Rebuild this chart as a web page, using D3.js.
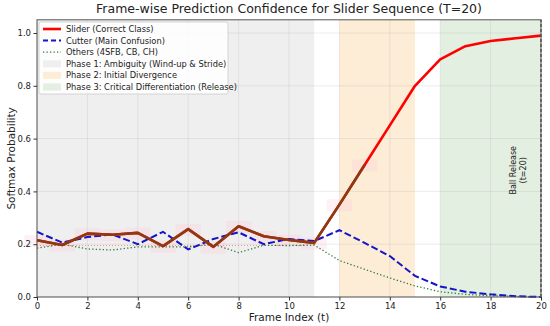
<!DOCTYPE html>
<html>
<head>
<meta charset="utf-8">
<script src="https://cdn.jsdelivr.net/npm/d3@7"></script>
<style>
  body { margin: 0; background: #fff; }
  text { font-family: "DejaVu Sans", sans-serif; fill: #222; }
</style>
</head>
<body>
<svg id="chart"></svg>
<script>
// data
var frames = d3.range(0, 21);
var slider = [0.215, 0.197, 0.24, 0.236, 0.243, 0.193, 0.257, 0.19, 0.268, 0.23, 0.216, 0.205,
              0.35, 0.5, 0.65, 0.8, 0.9, 0.95, 0.97, 0.98, 0.99];
var cutter = [0.247, 0.206, 0.227, 0.237, 0.2, 0.247, 0.18, 0.22, 0.245, 0.2, 0.22, 0.212,
              0.253, 0.205, 0.155, 0.08, 0.04, 0.02, 0.01, 0.003, 0.0];
var others = [0.185, 0.2, 0.182, 0.178, 0.19, 0.19, 0.19, 0.2, 0.168, 0.196, 0.195, 0.197,
              0.138, 0.105, 0.072, 0.042, 0.02, 0.01, 0.005, 0.002, 0.0];
var earlyFrames = d3.range(0, 14);   // part of slider trace drawn dark (ambiguous zone)
var chanceLevel = 0.2;
var phases = [
    {label: "Phase 1: Ambiguity (Wind-up & Stride)", start: 0, end: 11, color: "#efefef"},
    {label: "Phase 2: Initial Divergence", start: 12, end: 15, color: "#fdecd6"},
    {label: "Phase 3: Critical Differentiation (Release)", start: 16, end: 20, color: "#e3efe0"}
];
var xTicks = d3.range(0, 21, 2);
var yTicks = [0, 0.2, 0.4, 0.6, 0.8, 1.0];

var width = 550;
var height = 326;
var margin = {top: 19.8, bottom: 29, left: 37, right: 9};

var svg = d3.select("#chart")
    .attr("width", width)
    .attr("height", height);

var x = d3.scaleLinear().domain([0, 20]).range([margin.left, width - margin.right]);
var y = d3.scaleLinear().domain([0, 1.05]).range([height - margin.bottom, margin.top]);

// phase shading
svg.selectAll(".phase")
    .data(phases)
    .enter().append("rect")
    .attr("x", function (d) { return x(d.start); })
    .attr("y", y(1.05))
    .attr("width", function (d) { return x(d.end) - x(d.start); })
    .attr("height", y(0) - y(1.05))
    .attr("fill", function (d) { return d.color; });

// grid
svg.append("g")
    .selectAll("line")
    .data(xTicks)
    .enter().append("line")
    .attr("x1", function (d) { return x(d); })
    .attr("x2", function (d) { return x(d); })
    .attr("y1", y(0)).attr("y2", y(1.05))
    .attr("stroke", "#b0b0b0").attr("stroke-opacity", 0.3).attr("stroke-width", 0.8);
svg.append("g")
    .selectAll("line")
    .data(yTicks)
    .enter().append("line")
    .attr("x1", x(0)).attr("x2", x(20))
    .attr("y1", function (d) { return y(d); })
    .attr("y2", function (d) { return y(d); })
    .attr("stroke", "#b0b0b0").attr("stroke-opacity", 0.3).attr("stroke-width", 0.8);

// pink uncertainty blocks around early slider frames
svg.selectAll(".band")
    .data(earlyFrames)
    .enter().append("rect")
    .attr("x", function (d) { return x(d - 0.5); })
    .attr("y", function (d) { return y(slider[d] + 0.02); })
    .attr("width", x(1) - x(0))
    .attr("height", function (d) { return y(slider[d] - 0.025) - y(slider[d] + 0.02); })
    .attr("fill", "#ffc4dc")
    .attr("fill-opacity", 0.25);

var line = d3.line()
    .x(function (d) { return x(d[0]); })
    .y(function (d) { return y(d[1]); });

// chance level dotted
svg.append("path")
    .attr("d", line([[0, chanceLevel - 0.005], [11, chanceLevel - 0.005]]))
    .attr("fill", "none")
    .attr("stroke", "#ff5555")
    .attr("stroke-opacity", 0.6)
    .attr("stroke-width", 1.2)
    .attr("stroke-dasharray", "1,2");

svg.append("path")
    .attr("d", line(frames.map(function (t) { return [t, others[t]]; })))
    .attr("fill", "none")
    .attr("stroke", "#2e7d32")
    .attr("stroke-width", 1.3)
    .attr("stroke-dasharray", "1.3,2.2");

svg.append("path")
    .attr("d", line(frames.map(function (t) { return [t, cutter[t]]; })))
    .attr("fill", "none")
    .attr("stroke", "#1414c8")
    .attr("stroke-width", 2)
    .attr("stroke-dasharray", "7,3");

svg.append("path")
    .attr("d", line(frames.map(function (t) { return [t, slider[t]]; })))
    .attr("fill", "none")
    .attr("stroke", "#ff0000")
    .attr("stroke-width", 2.6)
    .attr("stroke-linejoin", "round");

svg.append("path")
    .attr("d", line(earlyFrames.map(function (t) { return [t, slider[t]]; })))
    .attr("fill", "none")
    .attr("stroke", "#8a3b12")
    .attr("stroke-width", 2.6)
    .attr("stroke-linejoin", "round");

// release marker
svg.append("line")
    .attr("x1", x(20)).attr("x2", x(20))
    .attr("y1", y(0)).attr("y2", y(1.05))
    .attr("stroke", "#555")
    .attr("stroke-width", 1.5)
    .attr("stroke-dasharray", "3,2");
svg.append("text")
    .attr("transform", "translate(" + (x(20) - 25) + "," + y(0.48) + ") rotate(-90)")
    .attr("text-anchor", "middle")
    .style("font-size", "8px")
    .text("Ball Release");
svg.append("text")
    .attr("transform", "translate(" + (x(20) - 15) + "," + y(0.48) + ") rotate(-90)")
    .attr("text-anchor", "middle")
    .style("font-size", "8px")
    .text("(t=20)");

// axes frame
svg.append("rect")
    .attr("x", x(0)).attr("y", y(1.05))
    .attr("width", x(20) - x(0)).attr("height", y(0) - y(1.05))
    .attr("fill", "none").attr("stroke", "#555").attr("stroke-width", 1);

var xAxis = svg.append("g")
    .attr("transform", "translate(0," + y(0) + ")")
    .call(d3.axisBottom(x).tickValues(xTicks).tickSize(3.5).tickPadding(2.5));
var yAxis = svg.append("g")
    .attr("transform", "translate(" + x(0) + ",0)")
    .call(d3.axisLeft(y).tickValues(yTicks).tickFormat(d3.format(".1f")).tickSize(3.5).tickPadding(2.5));
[xAxis, yAxis].forEach(function (g) {
    g.select(".domain").remove();
    g.selectAll("line").attr("stroke", "#333");
    g.selectAll("text").style("font-size", "8.5px").style("font-family", "DejaVu Sans").attr("fill", "#333");
});

svg.append("text")
    .attr("x", (x(0) + x(20)) / 2).attr("y", 13)
    .attr("text-anchor", "middle")
    .style("font-size", "12.5px")
    .text("Frame-wise Prediction Confidence for Slider Sequence (T=20)");
svg.append("text")
    .attr("x", (x(0) + x(20)) / 2).attr("y", 321)
    .attr("text-anchor", "middle")
    .style("font-size", "10.5px")
    .text("Frame Index (t)");
svg.append("text")
    .attr("transform", "translate(15," + y(0.525) + ") rotate(-90)")
    .attr("text-anchor", "middle")
    .style("font-size", "10.5px")
    .text("Softmax Probability");

// legend
var legendItems = [
    {label: "Slider (Correct Class)", type: "line", color: "#ff0000", width: 2.6, dash: null},
    {label: "Cutter (Main Confusion)", type: "line", color: "#1414c8", width: 2, dash: "5,3"},
    {label: "Others (4SFB, CB, CH)", type: "line", color: "#2e7d32", width: 1.3, dash: "1.3,2.2"}
].concat(phases.map(function (p) { return {label: p.label, type: "patch", color: p.color}; }));

var legend = svg.append("g").attr("transform", "translate(39,22)");
legend.append("rect")
    .attr("width", 189).attr("height", 72).attr("rx", 2)
    .attr("fill", "#fff").attr("fill-opacity", 0.85)
    .attr("stroke", "#ccc").attr("stroke-width", 0.8);
var rows = legend.selectAll(".row")
    .data(legendItems)
    .enter().append("g")
    .attr("transform", function (d, i) { return "translate(0," + (7 + i * 11.6) + ")"; });
rows.filter(function (d) { return d.type === "line"; })
    .append("line")
    .attr("x1", 4).attr("x2", 22)
    .attr("stroke", function (d) { return d.color; })
    .attr("stroke-width", function (d) { return d.width; })
    .attr("stroke-dasharray", function (d) { return d.dash; });
rows.filter(function (d) { return d.type === "patch"; })
    .append("rect")
    .attr("x", 4).attr("y", -3.5).attr("width", 18).attr("height", 7)
    .attr("fill", function (d) { return d.color; });
rows.append("text")
    .attr("x", 27).attr("y", 3)
    .style("font-size", "8.3px")
    .text(function (d) { return d.label; });
</script>
</body>
</html>
